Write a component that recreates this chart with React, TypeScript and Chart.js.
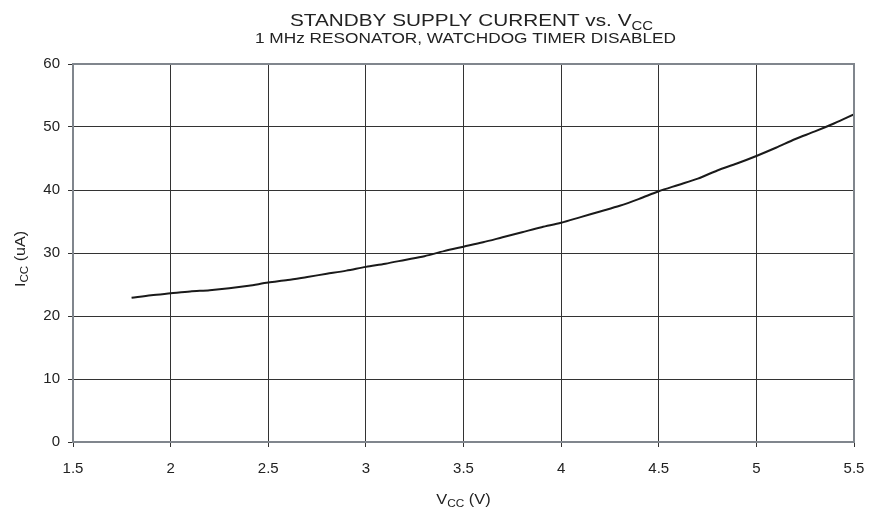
import React, { useEffect, useRef } from "react";
import { Chart, registerables } from "chart.js";

Chart.register(...registerables);

// Supply voltage (V)
const vcc = [
  1.8, 1.9, 2.0, 2.1, 2.2, 2.3, 2.4, 2.5, 2.6, 2.7, 2.8, 2.9, 3.0, 3.1, 3.2, 3.3,
  3.4, 3.5, 3.6, 3.7, 3.8, 3.9, 4.0, 4.1, 4.2, 4.3, 4.4, 4.5, 4.6, 4.7, 4.8, 4.9,
  5.0, 5.1, 5.2, 5.3, 5.4, 5.5,
];
// Standby supply current (uA)
const icc = [
  22.9, 23.3, 23.6, 23.9, 24.1, 24.4, 24.8, 25.3, 25.7, 26.2, 26.7, 27.2, 27.8, 28.3, 28.9, 29.5,
  30.3, 31.0, 31.7, 32.5, 33.3, 34.1, 34.8, 35.7, 36.6, 37.5, 38.6, 39.8, 40.8, 41.8, 43.1, 44.2,
  45.4, 46.7, 48.1, 49.3, 50.6, 52.0,
];

type Run = { t: string; sub?: boolean };
const TITLE: Run[] = [{ t: "STANDBY SUPPLY CURRENT vs. V" }, { t: "CC", sub: true }];
const SUBTITLE: Run[] = [{ t: "1 MHz RESONATOR, WATCHDOG TIMER DISABLED" }];
const X_TITLE: Run[] = [{ t: "V" }, { t: "CC", sub: true }, { t: " (V)" }];
const Y_TITLE: Run[] = [{ t: "I" }, { t: "CC", sub: true }, { t: " (uA)" }];

const FONT = "'Liberation Sans', Arial, Helvetica, sans-serif";
const TEXT_COLOR = "#222222";

function drawRuns(
  ctx: CanvasRenderingContext2D,
  runs: Run[],
  size: number,
  cx: number,
  baseline: number,
  sx: number
) {
  const subSize = size * 0.72;
  const widths = runs.map((r) => {
    ctx.font = `${r.sub ? subSize : size}px ${FONT}`;
    return ctx.measureText(r.t).width;
  });
  const total = widths.reduce((a, b) => a + b, 0);
  ctx.save();
  ctx.translate(cx, baseline);
  ctx.scale(sx, 1);
  let x = -total / 2;
  ctx.fillStyle = TEXT_COLOR;
  ctx.textBaseline = "alphabetic";
  ctx.textAlign = "left";
  runs.forEach((r, i) => {
    ctx.font = `${r.sub ? subSize : size}px ${FONT}`;
    ctx.fillText(r.t, x, r.sub ? size * 0.22 : 0);
    x += widths[i];
  });
  ctx.restore();
}

const textPlugin = {
  id: "customText",
  afterDraw(chart: any) {
    const { ctx, chartArea } = chart;
    const cx = (chartArea.left + chartArea.right) / 2;
    const cy = (chartArea.top + chartArea.bottom) / 2;
    ctx.save();
    // frame
    ctx.strokeStyle = "#80868d";
    ctx.lineWidth = 2;
    ctx.strokeRect(chartArea.left, chartArea.top, chartArea.right - chartArea.left, chartArea.bottom - chartArea.top);
    // titles
    drawRuns(ctx, TITLE, 17, cx + 8, 26, 1.22);
    drawRuns(ctx, SUBTITLE, 15, cx + 2, 43, 1.15);
    drawRuns(ctx, X_TITLE, 14, cx, 504, 1.17);
    ctx.translate(25, cy + 6);
    ctx.rotate(-Math.PI / 2);
    drawRuns(ctx, Y_TITLE, 14, 0, 0, 1.15);
    ctx.restore();
  },
};

const fmt = (v: any) => String(Number(v));

export default function App() {
  const ref = useRef<HTMLCanvasElement | null>(null);
  useEffect(() => {
    if (!ref.current) return;
    const chart = new Chart(ref.current, {
      type: "line",
      data: {
        datasets: [
          {
            data: vcc.map((v, i) => ({ x: v, y: icc[i] })),
            borderColor: "#1a1a1a",
            borderWidth: 2,
            pointRadius: 0,
            tension: 0.3,
            fill: false,
          },
        ],
      },
      options: {
        animation: false,
        responsive: false,
        maintainAspectRatio: false,
        layout: { padding: { top: 64, right: 20, left: 0, bottom: 0 } },
        plugins: { legend: { display: false }, tooltip: { enabled: false }, title: { display: false } },
        scales: {
          x: {
            type: "linear",
            min: 1.5,
            max: 5.5,
            ticks: {
              stepSize: 0.5,
              color: TEXT_COLOR,
              font: { family: FONT, size: 15 },
              padding: 13,
              maxRotation: 0,
              callback: fmt,
            },
            grid: { color: "#333333", lineWidth: 1, tickLength: 5, drawTicks: true },
            border: { display: false },
            afterFit: (s: any) => {
              s.height = 71;
              s.paddingLeft = 0;
              s.paddingRight = 0;
            },
          },
          y: {
            min: 0,
            max: 60,
            ticks: { stepSize: 10, color: TEXT_COLOR, font: { family: FONT, size: 15 }, padding: 8, callback: fmt },
            grid: { color: "#333333", lineWidth: 1, tickLength: 5, drawTicks: true },
            border: { display: false },
            afterFit: (s: any) => {
              s.width = 73;
              s.paddingTop = 0;
              s.paddingBottom = 0;
            },
          },
        },
      },
      plugins: [textPlugin],
    });
    return () => chart.destroy();
  }, []);
  return (
    <div style={{ position: "fixed", left: 0, top: 0, width: 874, height: 513, background: "#fff" }}>
      <canvas ref={ref} width={874} height={513} style={{ width: 874, height: 513, display: "block" }} />
    </div>
  );
}
